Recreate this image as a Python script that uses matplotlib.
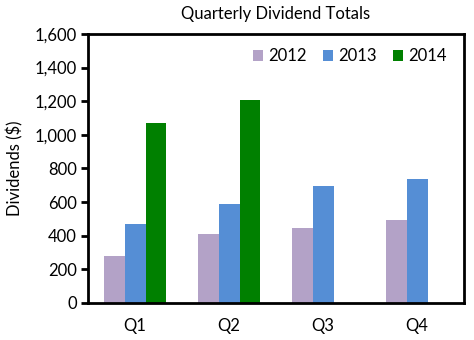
import matplotlib
matplotlib.use("Agg")
import matplotlib.pyplot as plt
import numpy as np
from matplotlib.ticker import FuncFormatter

plt.rcParams['font.family'] = ['Lato', 'DejaVu Sans']

quarters = ["Q1", "Q2", "Q3", "Q4"]
years = ["2012", "2013", "2014"]
v2012 = [280, 410, 446, 494]
v2013 = [470, 589, 693, 738]
v2014 = [1071, 1208, 0, 0]
colors = ["#b3a2c7", "#558ed5", "#008000"]

fig = plt.figure(figsize=(4.74, 3.40), dpi=100)
ax = fig.add_axes([0.1857, 0.109, 0.7933, 0.791])

x = np.arange(len(quarters))
w = 0.223
for i, (vals, c, lab) in enumerate(zip([v2012, v2013, v2014], colors, years)):
    ax.bar(x + (i - 1) * w, vals, width=w, color=c, label=lab)

ax.set_xlim(-0.5, 3.5)
ax.set_ylim(0, 1600)
ax.set_yticks(range(0, 1601, 200))
ax.yaxis.set_major_formatter(FuncFormatter(lambda v, p: f"{int(v):,}"))
ax.set_xticks(x)
ax.set_xticklabels(quarters)
ax.tick_params(axis='x', length=0, pad=11, labelsize=12)
ax.tick_params(axis='y', length=5, width=2, direction='out', labelsize=12, pad=3)
for s in ax.spines.values():
    s.set_linewidth(2)
    s.set_color('black')

ax.set_ylabel("Dividends ($)", fontsize=12, labelpad=8)
ax.set_title("Quarterly Dividend Totals", fontsize=12, pad=11)
ax.legend(loc='upper right', ncol=3, frameon=False, fontsize=12,
          handlelength=0.6, handleheight=0.6, handletextpad=0.3,
          columnspacing=1.0, borderpad=0.2, bbox_to_anchor=(0.985, 0.99))

fig.savefig("out.png", dpi=100)
